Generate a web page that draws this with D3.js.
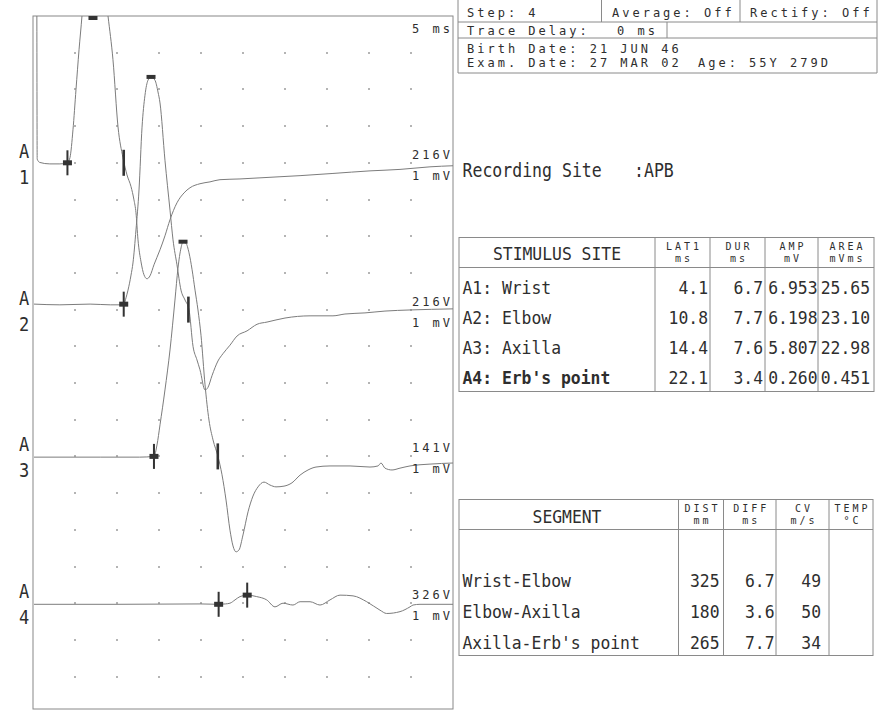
<!DOCTYPE html>
<html>
<head>
<meta charset="utf-8">
<script src="https://cdn.jsdelivr.net/npm/d3@7"></script>
<style>
  body { margin: 0; background: #fff; }
</style>
</head>
<body>
<div id="chart"></div>
<script>
// sweep settings
const sweepMs = 50;
const divMs = 5;
const rowsTotal = 19;

// channels
const channelNames = ['1', '2', '3', '4'];
const channelRow = [4, 8, 12, 16];
const gainLabels = ['216V', '216V', '141V', '326V'];
const sensLabels = ['1 mV', '1 mV', '1 mV', '1 mV'];
const sensMv = [1, 1, 1, 1];

// traces, [ms, mV]
const traceA1 = [[0.44,7.6],[0.5,0.1],[0.8,0.01],[2.0,-0.03],[3.2,-0.03],[3.9,-0.01],[4.1,0],[4.4,0.14],[4.76,0.9],[5.12,2.0],[5.48,3.08],[5.83,4.0],[6.43,6.0],[7.14,6.95],[7.98,6.0],[8.57,4.7],[8.93,4.0],[9.52,2.81],[10.12,0.98],[10.71,0.14],[11.19,-0.33],[11.67,-0.65],[12.02,-1.01],[12.26,-1.36],[12.5,-2.1],[12.86,-2.7],[13.21,-3.05],[13.57,-3.16],[13.93,-3.08],[14.4,-2.78],[15.12,-2.37],[15.71,-1.99],[16.31,-1.55],[17.14,-1.09],[17.98,-0.82],[18.69,-0.68],[19.88,-0.57],[21.07,-0.52],[22.26,-0.46],[24.64,-0.44],[27.02,-0.41],[29.4,-0.38],[31.79,-0.35],[35.71,-0.29],[40.12,-0.22],[43.69,-0.18],[47.26,-0.11],[50,-0.08]];
const traceA2 = [[0.12,0.15],[3.2,0.13],[6.8,0.15],[9.2,0.13],[10.5,0.13],[10.83,0.15],[11.07,0.32],[11.31,0.53],[11.67,0.94],[11.9,1.27],[12.26,2.17],[12.62,3.26],[12.98,4.97],[13.33,5.84],[13.69,6.25],[14.05,6.34],[14.52,6.25],[14.88,5.93],[15.12,5.63],[15.71,4.07],[16.31,2.71],[16.67,1.9],[17.14,1.22],[17.62,0.53],[18.1,0.26],[18.57,0.0],[19.05,-1.0],[19.52,-1.37],[19.88,-1.64],[20.48,-2.19],[20.83,-2.12],[21.31,-1.8],[22.02,-1.4],[22.62,-1.2],[23.45,-0.97],[24.29,-0.72],[25.48,-0.58],[26.67,-0.4],[27.86,-0.34],[30.0,-0.23],[32.98,-0.17],[35.71,-0.17],[37.14,-0.12],[39.52,-0.09],[41.9,-0.04],[44.88,-0.01],[50,0.02]];
const traceA3 = [[0.12,-0.02],[8,-0.02],[12.7,-0.02],[14.4,0],[14.76,0.31],[15.12,0.86],[15.71,1.81],[16.31,2.9],[16.9,4.26],[17.26,5.13],[17.62,5.68],[17.86,5.85],[18.21,5.81],[18.57,5.55],[18.93,5.1],[19.29,4.53],[19.64,3.99],[20.0,3.3],[20.48,1.95],[20.95,0.99],[21.43,0.45],[22.02,0.0],[22.5,-0.5],[22.98,-1.19],[23.45,-2.01],[23.81,-2.44],[24.17,-2.6],[24.52,-2.55],[25.0,-2.14],[25.6,-1.51],[26.19,-1.08],[26.79,-0.83],[27.5,-0.7],[28.21,-0.78],[28.93,-0.83],[29.88,-0.81],[30.83,-0.72],[31.79,-0.51],[32.74,-0.37],[33.69,-0.29],[35.36,-0.26],[37.74,-0.26],[40.12,-0.29],[41.07,-0.26],[41.43,-0.18],[41.9,-0.32],[42.74,-0.37],[43.69,-0.32],[44.88,-0.26],[47.26,-0.21],[50,-0.18]];
const traceA4 = [[0.12,-0.03],[10,-0.03],[19.9,-0.02],[22.1,-0.03],[22.9,-0.02],[23.45,0.0],[24.05,0.09],[24.64,0.18],[25.5,0.22],[26.63,0.18],[27.82,0.09],[28.81,-0.1],[29.76,0.0],[30.95,-0.05],[31.79,0.04],[32.98,0.04],[34.17,-0.05],[35.36,0.09],[36.55,0.22],[38.1,0.2],[39.73,0.04],[41.31,-0.19],[42.1,-0.28],[43.69,-0.23],[44.88,-0.1],[45.24,-0.05],[46.07,-0.03],[50,-0.03]];
const traces = [traceA1, traceA2, traceA3, traceA4];

// markers
const peakMs = [7.14, 14.05, 17.86, null];
const endKind = ['bar', 'bar', 'bar', 'cross'];

// header
const headerRows = [
  [['Step: 4', 467], ['Average: Off', 612], ['Rectify: Off', 750]],
  [['Trace Delay:', 467], ['0 ms', 617]],
  [['Birth Date: 21 JUN 46', 467]],
  [['Exam. Date: 27 MAR 02', 467], ['Age: 55Y 279D', 698]]
];
const recordingSite = 'APB';

// stimulus table
const stimSites = ['A1: Wrist', 'A2: Elbow', 'A3: Axilla', "A4: Erb's point"];
const lat1 = [4.1, 10.8, 14.4, 22.1];
const dur = [6.7, 7.7, 7.6, 3.4];
const amp = [6.953, 6.198, 5.807, 0.260];
const area = [25.65, 23.10, 22.98, 0.451];
const stimHead = [['LAT1', 'ms'], ['DUR', 'ms'], ['AMP', 'mV'], ['AREA', 'mVms']];

// segment table
const segments = ['Wrist-Elbow', 'Elbow-Axilla', "Axilla-Erb's point"];
const segDist = [325, 180, 265];
const segDiff = [6.7, 3.6, 7.7];
const segCv = [49, 50, 34];
const segHead = [['DIST', 'mm'], ['DIFF', 'ms'], ['CV', 'm/s'], ['TEMP', '°C']];

const width = 881, height = 712;
const ink = '#2e2e2e', rule = '#8a8a8a';

const svg = d3.select('#chart').append('svg')
  .attr('width', width)
  .attr('height', height)
  .style('background', '#fff');

const plot = { left: 33, top: 16, right: 453, bottom: 709 };
const x = d3.scaleLinear().domain([0, sweepMs]).range([plot.left, plot.right]);
const yDiv = d3.scaleLinear().domain([0, rowsTotal]).range([plot.top, plot.top + rowsTotal * 36.7]);
const chY = (i, mv) => yDiv(channelRow[i] - mv / sensMv[i]);

function mono(g, px, py, str, o = {}) {
  const t = g.append('text')
    .attr('transform', `translate(${px},${py}) scale(${o.sx || 0.91},1)`)
    .attr('font-family', "'DejaVu Sans Mono', monospace")
    .attr('font-size', o.size || 18)
    .attr('text-anchor', o.anchor || 'start')
    .attr('fill', ink)
    .text(str);
  if (o.bold) t.attr('font-weight', 'bold');
  if (o.ls) t.attr('letter-spacing', o.ls);
  return t;
}
// small wide-spaced print font
function small(g, px, py, str, anchor = 'start', size = 12, ls = 3) {
  return mono(g, anchor === 'end' ? px + ls : px, py, str, { size: size, sx: 1, ls: ls, anchor: anchor });
}

// ---- plot area ----
svg.append('defs').append('clipPath').attr('id', 'plotclip')
  .append('rect')
  .attr('x', plot.left).attr('y', plot.top)
  .attr('width', plot.right - plot.left).attr('height', plot.bottom - plot.top);

const dots = [];
for (let c = 1; c < sweepMs / divMs; c++) {
  for (let r = 1; r < rowsTotal; r++) dots.push([c * divMs, r]);
}
svg.append('g').selectAll('rect').data(dots).enter().append('rect')
  .attr('x', d => Math.round(x(d[0])) - 1)
  .attr('y', d => Math.round(yDiv(d[1])) - 1)
  .attr('width', 2).attr('height', 2)
  .attr('fill', '#b4b4b4');

svg.append('rect')
  .attr('x', plot.left).attr('y', plot.top)
  .attr('width', plot.right - plot.left).attr('height', plot.bottom - plot.top)
  .attr('fill', 'none').attr('stroke', '#888').attr('stroke-width', 1);

const traceG = svg.append('g').attr('clip-path', 'url(#plotclip)');
traces.forEach((tr, i) => {
  const line = d3.line()
    .x(d => x(d[0]))
    .y(d => chY(i, d[1]))
    .curve(d3.curveMonotoneX);
  traceG.append('path')
    .datum(tr)
    .attr('d', line)
    .attr('fill', 'none')
    .attr('stroke', '#7c7c7c')
    .attr('stroke-width', 1);
});

function valueAt(tr, t) {
  const i = d3.bisector(d => d[0]).left(tr, t);
  if (i <= 0) return tr[0][1];
  if (i >= tr.length) return tr[tr.length - 1][1];
  const a = tr[i - 1], b = tr[i];
  return a[1] + (b[1] - a[1]) * (t - a[0]) / (b[0] - a[0]);
}

const mk = svg.append('g').attr('fill', '#333');
function cross(px, py) {
  mk.append('rect').attr('x', px - 1).attr('y', py - 12.5).attr('width', 2).attr('height', 25);
  mk.append('rect').attr('x', px - 4.5).attr('y', py - 2.5).attr('width', 9).attr('height', 5);
}
channelNames.forEach((n, i) => {
  const tOn = lat1[i];
  cross(x(tOn), chY(i, valueAt(traces[i], tOn)));
  const tEnd = lat1[i] + dur[i];
  if (endKind[i] === 'bar') {
    mk.append('rect').attr('x', x(tEnd) - 1.3).attr('y', chY(i, 0) - 13)
      .attr('width', 2.6).attr('height', 26);
  } else {
    cross(x(tEnd), chY(i, valueAt(traces[i], tEnd)));
  }
  if (peakMs[i] !== null) {
    const py = Math.max(plot.top + 2, chY(i, valueAt(traces[i], peakMs[i])));
    mk.append('rect').attr('x', x(peakMs[i]) - 4.5).attr('y', py - 2)
      .attr('width', 9).attr('height', 4);
  }

  // channel labels
  const row = yDiv(channelRow[i]);
  mono(svg, 24, row - 5, 'A', { size: 20, sx: 0.85, anchor: 'middle' });
  mono(svg, 24, row + 21, n, { size: 20, sx: 0.85, anchor: 'middle' });
  small(svg, 450, row - 4, gainLabels[i], 'end');
  small(svg, 450, row + 17, sensLabels[i], 'end');
});
small(svg, 450, 33, divMs + ' ms', 'end');

// ---- header box ----
const hdr = svg.append('g').attr('stroke', rule).attr('stroke-width', 1).attr('fill', 'none');
hdr.append('line').attr('x1', 458).attr('x2', 458).attr('y1', -1).attr('y2', 73);
hdr.append('line').attr('x1', 877).attr('x2', 877).attr('y1', -1).attr('y2', 73);
[22, 38, 73].forEach(yy => hdr.append('line').attr('x1', 458).attr('x2', 877).attr('y1', yy).attr('y2', yy));
hdr.append('line').attr('x1', 601.5).attr('x2', 601.5).attr('y1', -1).attr('y2', 22);
hdr.append('line').attr('x1', 740).attr('x2', 740).attr('y1', -1).attr('y2', 22);
hdr.append('line').attr('x1', 667).attr('x2', 667).attr('y1', 22).attr('y2', 38);
const hdrBase = [16.5, 34.5, 52.5, 67];
headerRows.forEach((row, r) => row.forEach(([s, px]) => small(svg, px, hdrBase[r], s)));

mono(svg, 462.5, 177, 'Recording Site', { size: 19, sx: 0.87 });
mono(svg, 634, 177, ':' + recordingSite, { size: 19, sx: 0.87 });

// ---- tables ----
const fmt5 = v => v < 1 ? v.toFixed(3) : v.toPrecision(4);

function drawTable(o) {
  const g = svg.append('g').attr('stroke', rule).attr('stroke-width', 1).attr('fill', 'none');
  g.append('rect').attr('x', o.left).attr('y', o.top)
    .attr('width', o.right - o.left).attr('height', o.bottom - o.top);
  g.append('line').attr('x1', o.left).attr('x2', o.right).attr('y1', o.headBottom).attr('y2', o.headBottom);
  o.cols.forEach(cx => g.append('line').attr('x1', cx).attr('x2', cx).attr('y1', o.top).attr('y2', o.bottom));
  mono(svg, o.titleX, o.titleY, o.title, { anchor: 'middle' });
  const edges = o.cols.concat([o.right]);
  o.head.forEach((h, k) => {
    const cx = (edges[k] + edges[k + 1]) / 2 + 1.5;
    small(svg, cx, o.top + 12.5, h[0], 'middle', 10, 3);
    small(svg, cx, o.top + 24, h[1], 'middle', 10, 3);
  });
}

drawTable({
  left: 459, right: 874, top: 237.5, headBottom: 267.5, bottom: 391.5,
  cols: [655, 710, 765, 818], title: 'STIMULUS SITE', titleX: 557, titleY: 260, head: stimHead
});
const stimBase = [293.5, 323.5, 353.5, 384];
stimSites.forEach((s, i) => {
  mono(svg, 462.5, stimBase[i], s, { bold: i === 3 });
  mono(svg, 708, stimBase[i], lat1[i].toFixed(1), { anchor: 'end' });
  mono(svg, 763, stimBase[i], dur[i].toFixed(1), { anchor: 'end' });
  mono(svg, 817.5, stimBase[i], fmt5(amp[i]), { anchor: 'end' });
  mono(svg, 870, stimBase[i], fmt5(area[i]), { anchor: 'end' });
});

drawTable({
  left: 459, right: 873, top: 499.5, headBottom: 529.5, bottom: 655.5,
  cols: [678.5, 723.5, 776, 829], title: 'SEGMENT', titleX: 567, titleY: 523, head: segHead
});
const segBase = [587, 618, 648.5];
segments.forEach((s, i) => {
  mono(svg, 462.5, segBase[i], s);
  mono(svg, 719.5, segBase[i], String(segDist[i]), { anchor: 'end' });
  mono(svg, 774.5, segBase[i], segDiff[i].toFixed(1), { anchor: 'end' });
  mono(svg, 821, segBase[i], String(segCv[i]), { anchor: 'end' });
});
</script>
</body>
</html>
